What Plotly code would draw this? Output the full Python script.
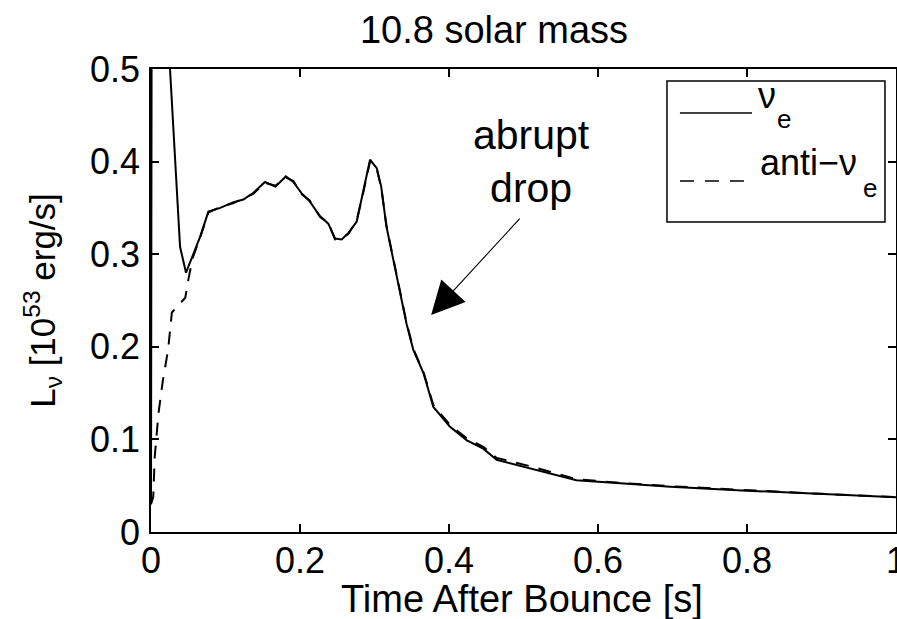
import plotly.graph_objects as go

# ---- data ----
t_nue = [0.0, 0.001, 0.022, 0.0255, 0.039, 0.047, 0.056, 0.066, 0.077, 0.093,
         0.11, 0.124, 0.137, 0.153, 0.167, 0.181, 0.191, 0.202, 0.213, 0.227,
         0.238, 0.247, 0.256, 0.265, 0.276, 0.285, 0.294, 0.303, 0.309, 0.316,
         0.325, 0.334, 0.343, 0.352, 0.366, 0.379, 0.401, 0.424, 0.446, 0.464,
         0.509, 0.571, 0.63, 0.697, 0.8, 0.9, 1.0]
L_nue = [0.03, 0.65, 0.55, 0.5, 0.308, 0.28, 0.298, 0.319, 0.346, 0.35,
         0.356, 0.359, 0.366, 0.378, 0.373, 0.384, 0.378, 0.366, 0.357, 0.341,
         0.333, 0.317, 0.316, 0.323, 0.335, 0.368, 0.402, 0.393, 0.373, 0.33,
         0.294, 0.261, 0.225, 0.197, 0.171, 0.135, 0.114, 0.099, 0.09, 0.078,
         0.069, 0.056, 0.0526, 0.049, 0.0446, 0.041, 0.0375]

t_anue = [0.0, 0.003, 0.005, 0.01, 0.016, 0.023, 0.028, 0.039, 0.046, 0.05,
          0.056, 0.066, 0.077, 0.093, 0.11, 0.124, 0.137, 0.153, 0.167, 0.181,
          0.191, 0.202, 0.213, 0.227, 0.238, 0.247, 0.256, 0.265, 0.276, 0.285,
          0.294, 0.303, 0.309, 0.316, 0.325, 0.334, 0.343, 0.352, 0.366, 0.379,
          0.401, 0.424, 0.446, 0.464, 0.509, 0.571, 0.63, 0.697, 0.8, 0.9, 1.0]
L_anue = [0.03, 0.038, 0.081, 0.128, 0.164, 0.197, 0.237, 0.247, 0.253, 0.272,
          0.296, 0.318, 0.345, 0.351, 0.355, 0.36, 0.365, 0.377, 0.374, 0.383,
          0.379, 0.365, 0.358, 0.34, 0.334, 0.316, 0.317, 0.322, 0.336, 0.367,
          0.4, 0.392, 0.372, 0.331, 0.295, 0.262, 0.226, 0.198, 0.172, 0.137,
          0.116, 0.101, 0.092, 0.08, 0.071, 0.057, 0.053, 0.0495, 0.045, 0.0412, 0.0377]

x_ticks = [0, 0.2, 0.4, 0.6, 0.8, 1]
x_tick_text = ["0", "0.2", "0.4", "0.6", "0.8", "1"]
y_ticks = [0, 0.1, 0.2, 0.3, 0.4, 0.5]
y_tick_text = ["0", "0.1", "0.2", "0.3", "0.4", "0.5"]

FONT = "Liberation Sans, Arial, Helvetica, sans-serif"
FS_TICK = 36
FS_TITLE = 38
FS_SUB = 26

fig = go.Figure()
fig.add_trace(go.Scatter(x=t_anue, y=L_anue, mode="lines", name="anti−ν<sub>e</sub>",
                         line=dict(color="black", width=2, dash="13px,10px")))
fig.add_trace(go.Scatter(x=t_nue, y=L_nue, mode="lines", name="ν<sub>e</sub>",
                         line=dict(color="black", width=2)))

axis_common = dict(showline=True, linecolor="black", linewidth=1.5, mirror="ticks",
                   ticks="inside", ticklen=8, tickwidth=1.5, tickcolor="black",
                   showgrid=False, zeroline=False, ticklabeloverflow="allow",
                   automargin=False,
                   tickfont=dict(family=FONT, size=FS_TICK, color="black"))

fig.update_xaxes(range=[0, 1], tickvals=x_ticks, ticktext=x_tick_text,
                 ticklabelstandoff=-4, **axis_common)
fig.update_yaxes(range=[0, 0.5], tickvals=y_ticks, ticktext=y_tick_text,
                 ticklabelstandoff=2,
                 title=dict(text="L<sub>ν</sub> [10<sup>53</sup> erg/s]", standoff=24,
                            font=dict(family=FONT, size=35, color="black")),
                 **axis_common)

# x-axis title
fig.add_annotation(xref="paper", yref="paper", x=(522 - 151) / 745, y=(532 - 599) / 463,
                   xanchor="center", yanchor="middle", text="Time After Bounce [s]",
                   showarrow=False, font=dict(family=FONT, size=FS_TITLE, color="black"))

# manual legend (MATLAB style)
fig.add_shape(type="rect", xref="paper", yref="paper", x0=0.6926, x1=0.9852,
              y0=0.6695, y1=0.9741, line=dict(color="black", width=1.5),
              fillcolor="white", layer="above")
fig.add_shape(type="line", xref="paper", yref="paper", x0=0.710, x1=0.8067,
              y0=0.905, y1=0.905, line=dict(color="black", width=1.5), layer="above")
fig.add_shape(type="line", xref="paper", yref="paper", x0=0.710, x1=0.8067,
              y0=0.758, y1=0.758, line=dict(color="black", width=1.5, dash="14px,11px"),
              layer="above")
legend_text = [("ν", 757, 95, FS_TICK), ("e", 776, 119, FS_SUB),
               ("anti−ν", 759, 162, FS_TICK), ("e", 862, 188, FS_SUB)]
for txt, px, py, fs in legend_text:
    fig.add_annotation(xref="paper", yref="paper", x=(px - 151) / 745, y=(532 - py) / 463,
                       xanchor="left", yanchor="middle", text=txt, showarrow=False,
                       borderpad=0, font=dict(family=FONT, size=fs, color="black"))

# "abrupt drop" annotation
fig.add_annotation(x=0.511, y=0.40, xref="x", yref="y", text="abrupt<br>drop",
                   showarrow=False, align="center",
                   font=dict(family=FONT, size=41, color="black"))
fig.add_annotation(x=0.376, y=0.2343, xref="x", yref="y", ax=0.499, ay=0.342,
                   axref="x", ayref="y", text=" ", showarrow=True,
                   arrowhead=2, arrowsize=6, arrowwidth=1.1, arrowcolor="black")

fig.update_layout(
    width=897, height=619,
    margin=dict(l=151, r=1, t=69, b=87, autoexpand=False),
    paper_bgcolor="white", plot_bgcolor="white",
    showlegend=False,
    title=dict(text="10.8 solar mass", xref="container", yref="container",
               x=494 / 897, y=1 - 30 / 619, xanchor="center", yanchor="middle",
               font=dict(family=FONT, size=FS_TITLE, color="black")),
)

fig.write_html("out.html")
